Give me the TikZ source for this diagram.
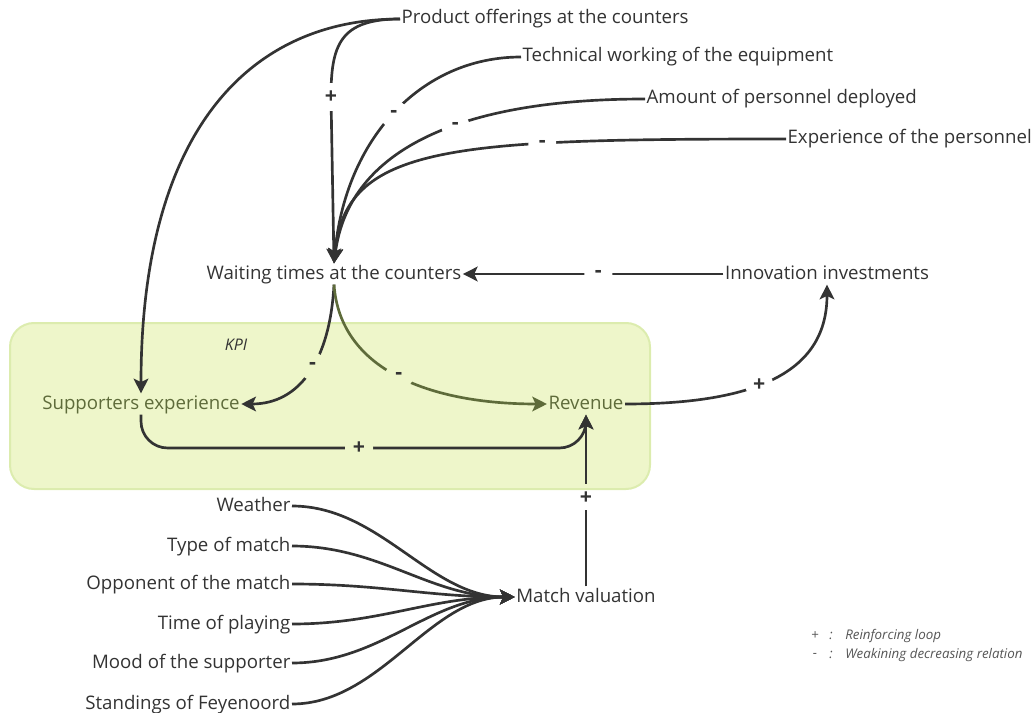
\documentclass[tikz,border=0pt]{standalone}
\usepackage{fontspec}
\setmainfont{Open Sans}
\usetikzlibrary{arrows.meta}
\definecolor{ink}{HTML}{333333}
\definecolor{olive}{HTML}{5E6B3A}
\definecolor{kpifill}{HTML}{EEF6CA}
\definecolor{kpiedge}{HTML}{DCECAE}
\definecolor{note}{HTML}{555555}

\begin{document}
\begin{tikzpicture}[x=0.75pt,y=-0.75pt,
  var/.style={font=\fontsize{14}{16}\selectfont, text=ink, inner sep=1pt, text height=10.5pt, text depth=3pt},
  kpivar/.style={var, text=olive},
  link/.style={draw=ink, line width=2pt, -{Stealth[length=11pt,width=11pt,inset=2.5pt]}},
  oliveLink/.style={link, draw=olive, -{Stealth[length=11pt,width=11pt,inset=2.5pt,fill=olive]}},
  sign/.style={font=\fontsize{16}{17}\selectfont\bfseries, text=ink, fill=white, circle, inner sep=0pt, minimum size=21pt},
  kpisign/.style={sign, fill=kpifill},
  baresign/.style={sign, fill=none},
  legend/.style={font=\fontsize{10}{11}\selectfont\itshape, text=note, inner sep=0pt},
]
\useasboundingbox (0,0) rectangle (1032,713);

% KPI area
\draw[rounded corners=18pt, fill=kpifill, draw=kpiedge, line width=1.5pt] (10,323) rectangle (650,489);
\node[font=\fontsize{12}{13}\selectfont\itshape, text=ink] (kpi) at (236,345) {KPI};

% variables
\node[var, anchor=west] (prod) at (400,19) {Product offerings at the counters};
\node[var, anchor=west] (tech) at (521,57) {Technical working of the equipment};
\node[var, anchor=west] (amount) at (645,99) {Amount of personnel deployed};
\node[var, anchor=west] (exper) at (786,139) {Experience of the personnel};
\node[var] (wait) at (334,274) {Waiting times at the counters};
\node[var] (innov) at (827,274) {Innovation investments};
\node[kpivar] (supp) at (141,404) {Supporters experience};
\node[kpivar] (rev) at (586,404) {Revenue};
\node[var] (match) at (586,597) {Match valuation};

\node[var, anchor=east] (f1) at (292,506) {Weather};
\node[var, anchor=east] (f2) at (292,546) {Type of match};
\node[var, anchor=east] (f3) at (292,584) {Opponent of the match};
\node[var, anchor=east] (f4) at (292,624) {Time of playing};
\node[var, anchor=east] (f5) at (292,663) {Mood of the supporter};
\node[var, anchor=east] (f6) at (292,704) {Standings of Feyenoord};

% influences on waiting times
\draw[link] (prod.west) .. controls (340,19) and (331,45) .. (331,97) node[sign] {+} -- (wait.north);
\draw[link] (tech.west) .. controls (420,57) and (345,140) .. node[sign, pos=0.5] {-} (wait.north);
\draw[link] (amount.west) .. controls (450,99) and (348,155) .. node[sign, pos=0.4] {-} (wait.north);
\draw[link] (exper.west) .. controls (450,139) and (345,145) .. node[sign, pos=0.3] {-} (wait.north);
\draw[link] (innov.west) -- node[sign, pos=0.48] {-} (wait.east);

% product offerings to supporters experience
\draw[link] (prod.west) .. controls (250,19) and (141,130) .. (supp.north);

% waiting times to the KPIs
\draw[link] (wait.south) .. controls (330,360) and (300,404) .. node[kpisign, pos=0.45] {-} (supp.east);
\draw[oliveLink] (wait.south) .. controls (340,370) and (430,404) .. node[kpisign, pos=0.5] {-} (rev.west);

% supporters experience to revenue
\draw[link, rounded corners=20pt] (supp.south) -- (141,448) -- node[kpisign, pos=0.49] {+} (586,448) -- (rev.south);

% match valuation to revenue, the gap for its sign left open by a dash pattern
\draw[link, dash pattern=on 57.5pt off 19.5pt on 300pt] (match.north) -- (rev.south);
\node[baresign] (matchsign) at (586,498) {+};

% revenue to innovation investments
\draw[link] (rev.east) .. controls (760,404) and (827,370) .. node[sign, pos=0.42] {+} (innov.south);

% factors of the match valuation
\foreach \f/\y in {f1/506,f2/546,f3/584,f4/624,f5/663,f6/704}
  \draw[link] (\f.east) .. controls (380,\y) and (430,597) .. (match.west);

% legend
\node[legend] (l1s) at (815,636) {+};
\node[legend] (l1c) at (831,636) {:};
\node[legend, anchor=west] (l1t) at (845,636) {Reinforcing loop};
\node[legend] (l2s) at (815,655) {-};
\node[legend] (l2c) at (831,655) {:};
\node[legend, anchor=west] (l2t) at (845,655) {Weakining decreasing relation};
\end{tikzpicture}
\end{document}
